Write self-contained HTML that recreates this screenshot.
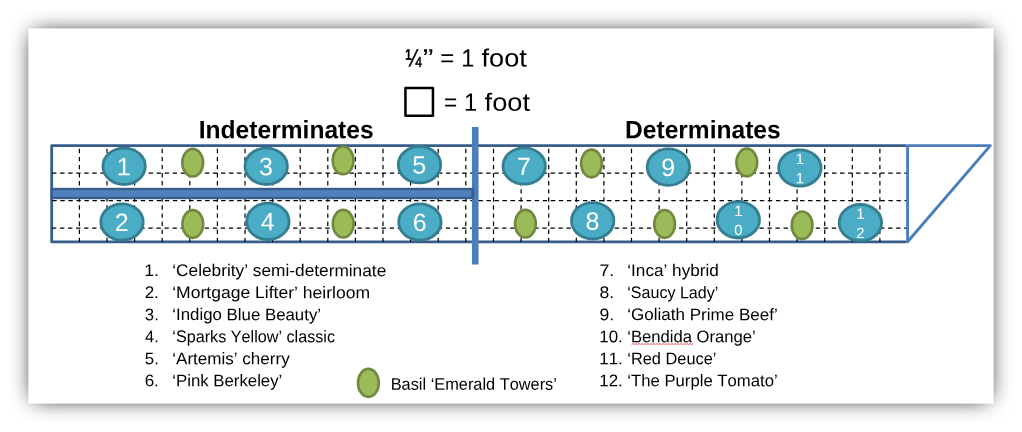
<!DOCTYPE html>
<html lang="en">
<head>
<meta charset="utf-8">
<title>Tomato bed plan</title>
<style>
html,body{margin:0;padding:0;background:#fff;}
body{width:1022px;height:432px;overflow:hidden;position:relative;font-family:"Liberation Sans",sans-serif;}
svg{position:absolute;left:0;top:0;will-change:transform;}
text{font-family:"Liberation Sans",sans-serif;fill:#000;font-kerning:none;text-rendering:geometricPrecision;}
.h{font-weight:bold;font-size:25.2px;}
.t{font-size:25.0px;}
.l{font-size:16.8px;}
.q{stroke:#000;stroke-width:0.55px;}
.n{font-size:25.0px;fill:#fff;text-anchor:middle;}
.s{font-size:14.8px;fill:#fff;text-anchor:middle;}
</style>
</head>
<body>
<svg width="1022" height="432" viewBox="0 0 1022 432">

<defs>
<filter id="sh" filterUnits="userSpaceOnUse" x="-40" y="-40" width="1102" height="512"><feGaussianBlur stdDeviation="11"/></filter>
</defs>
<rect x="33.40" y="33.40" width="955.20" height="365.20" fill="#000" filter="url(#sh)"/>
<rect x="28.40" y="28.40" width="965.20" height="375.20" fill="#fff"/>
<text class="t q" transform="matrix(0.7683 0.0005 0 1 405.57 66.39)">¼</text>
<text class="t" transform="matrix(1.2935 0.0005 0 1 422.82 66.40)">” </text>
<text class="t" transform="matrix(0.9633 0.0005 0 1 440.32 66.40)">= </text>
<text class="t" transform="matrix(0.9463 0.0005 0 1 461.20 66.40)">1 </text>
<text class="t" transform="matrix(1.0860 0.0005 0 1 481.52 66.39)">foot</text>
<rect x="405.45" y="87.9" width="27.5" height="27.8" fill="none" stroke="#000" stroke-width="2.5" stroke-linejoin="round"/>
<text class="t" transform="matrix(0.9056 0.0005 0 1 444.09 110.80)">= </text>
<text class="t" transform="matrix(0.9463 0.0005 0 1 464.00 110.80)">1 </text>
<text class="t" transform="matrix(1.0908 0.0005 0 1 484.61 110.79)">foot</text>
<text class="h" transform="matrix(0.9760 0.0005 0 1 198.75 138.26)">Indeterminates</text>
<text class="h" transform="matrix(0.9749 0.0005 0 1 625.06 138.26)">Determinates</text>
<path d="M906.5 145.6H51.7V241.9H906.5" fill="none" stroke="#385d8a" stroke-width="2.8" stroke-linejoin="round"/>
<g stroke="#000" stroke-width="1.2" fill="none">
<g stroke-dasharray="4.40 3.68">
<path d="M79.4 145.6V241.9" stroke-dashoffset="4.88"/>
<path d="M107.0 145.6V241.9" stroke-dashoffset="4.88"/>
<path d="M134.6 145.6V241.9" stroke-dashoffset="4.88"/>
<path d="M162.2 145.6V241.9" stroke-dashoffset="4.88"/>
<path d="M189.8 145.6V241.9" stroke-dashoffset="4.88"/>
<path d="M217.4 145.6V241.9" stroke-dashoffset="4.88"/>
<path d="M245.0 145.6V241.9" stroke-dashoffset="4.88"/>
<path d="M272.6 145.6V241.9" stroke-dashoffset="4.88"/>
<path d="M300.2 145.6V241.9" stroke-dashoffset="4.88"/>
<path d="M327.8 145.6V241.9" stroke-dashoffset="4.88"/>
<path d="M355.4 145.6V241.9" stroke-dashoffset="4.88"/>
<path d="M383.0 145.6V241.9" stroke-dashoffset="4.88"/>
<path d="M410.6 145.6V241.9" stroke-dashoffset="4.88"/>
<path d="M438.2 145.6V241.9" stroke-dashoffset="4.88"/>
<path d="M465.8 145.6V241.9" stroke-dashoffset="4.88"/>
<path d="M493.5 145.6V241.9" stroke-dashoffset="4.88"/>
<path d="M521.1 145.6V241.9" stroke-dashoffset="4.88"/>
<path d="M548.7 145.6V241.9" stroke-dashoffset="4.88"/>
<path d="M576.3 145.6V241.9" stroke-dashoffset="4.88"/>
<path d="M603.9 145.6V241.9" stroke-dashoffset="4.88"/>
<path d="M631.5 145.6V241.9" stroke-dashoffset="4.88"/>
<path d="M659.1 145.6V241.9" stroke-dashoffset="4.88"/>
<path d="M686.7 145.6V241.9" stroke-dashoffset="4.88"/>
<path d="M714.3 145.6V241.9" stroke-dashoffset="4.88"/>
<path d="M741.9 145.6V241.9" stroke-dashoffset="4.88"/>
<path d="M769.5 145.6V241.9" stroke-dashoffset="4.88"/>
<path d="M797.1 145.6V241.9" stroke-dashoffset="4.88"/>
<path d="M824.7 145.6V241.9" stroke-dashoffset="4.88"/>
<path d="M852.3 145.6V241.9" stroke-dashoffset="4.88"/>
<path d="M879.9 145.6V241.9" stroke-dashoffset="4.88"/>
</g>
<g stroke-dasharray="4.40 3.64">
<path d="M51.8 173.1H907.5" stroke-dashoffset="7.74"/>
<path d="M51.8 200.6H907.5" stroke-dashoffset="7.54"/>
<path d="M51.8 228.1H907.5" stroke-dashoffset="7.94"/>
</g>
</g>
<path d="M907.6 145.6H990.3L907.6 241.7Z" fill="none" stroke="#4a7ebb" stroke-width="2.9" stroke-linejoin="round"/>
<path d="M475.25 126.9V264.4" stroke="#4a7ebb" stroke-width="6.6" fill="none"/>
<rect x="51.80" y="189.00" width="420.90" height="9.00" fill="#4f81bd" stroke="#385d8a" stroke-width="2.4"/>
<ellipse cx="192.7" cy="162.7" rx="10.40" ry="13.85" fill="#9bbb59" stroke="#71893f" stroke-width="2.6"/>
<ellipse cx="192.8" cy="224.0" rx="10.40" ry="13.85" fill="#9bbb59" stroke="#71893f" stroke-width="2.6"/>
<ellipse cx="343.1" cy="160.4" rx="10.40" ry="13.85" fill="#9bbb59" stroke="#71893f" stroke-width="2.6"/>
<ellipse cx="343.2" cy="223.7" rx="10.40" ry="13.85" fill="#9bbb59" stroke="#71893f" stroke-width="2.6"/>
<ellipse cx="591.5" cy="163.5" rx="10.40" ry="13.85" fill="#9bbb59" stroke="#71893f" stroke-width="2.6"/>
<ellipse cx="525.4" cy="223.7" rx="10.40" ry="13.85" fill="#9bbb59" stroke="#71893f" stroke-width="2.6"/>
<ellipse cx="664.6" cy="224.0" rx="10.40" ry="13.85" fill="#9bbb59" stroke="#71893f" stroke-width="2.6"/>
<ellipse cx="746.8" cy="162.5" rx="10.40" ry="13.85" fill="#9bbb59" stroke="#71893f" stroke-width="2.6"/>
<ellipse cx="802.1" cy="225.3" rx="10.40" ry="13.85" fill="#9bbb59" stroke="#71893f" stroke-width="2.6"/>
<ellipse cx="124.1" cy="166.3" rx="21.20" ry="18.20" fill="#4bacc6" stroke="#357d91" stroke-width="2.8"/>
<text class="n" transform="matrix(1 0.0005 0 1 123.80 175.20)">1</text>
<ellipse cx="122.0" cy="222.0" rx="21.20" ry="18.20" fill="#4bacc6" stroke="#357d91" stroke-width="2.8"/>
<text class="n" transform="matrix(1 0.0005 0 1 121.70 230.90)">2</text>
<ellipse cx="266.2" cy="166.3" rx="21.20" ry="18.20" fill="#4bacc6" stroke="#357d91" stroke-width="2.8"/>
<text class="n" transform="matrix(1 0.0005 0 1 265.90 175.20)">3</text>
<ellipse cx="267.9" cy="221.4" rx="21.20" ry="18.20" fill="#4bacc6" stroke="#357d91" stroke-width="2.8"/>
<text class="n" transform="matrix(1 0.0005 0 1 267.60 230.30)">4</text>
<ellipse cx="419.5" cy="164.7" rx="21.20" ry="18.20" fill="#4bacc6" stroke="#357d91" stroke-width="2.8"/>
<text class="n" transform="matrix(1 0.0005 0 1 419.20 173.60)">5</text>
<ellipse cx="419.9" cy="222.0" rx="21.20" ry="18.20" fill="#4bacc6" stroke="#357d91" stroke-width="2.8"/>
<text class="n" transform="matrix(1 0.0005 0 1 419.60 230.90)">6</text>
<ellipse cx="524.2" cy="166.0" rx="21.20" ry="18.20" fill="#4bacc6" stroke="#357d91" stroke-width="2.8"/>
<text class="n" transform="matrix(1 0.0005 0 1 523.90 174.90)">7</text>
<ellipse cx="592.7" cy="220.8" rx="21.20" ry="18.20" fill="#4bacc6" stroke="#357d91" stroke-width="2.8"/>
<text class="n" transform="matrix(1 0.0005 0 1 592.40 229.70)">8</text>
<ellipse cx="668.4" cy="167.1" rx="21.20" ry="18.20" fill="#4bacc6" stroke="#357d91" stroke-width="2.8"/>
<text class="n" transform="matrix(1 0.0005 0 1 668.10 176.00)">9</text>
<ellipse cx="738.3" cy="219.8" rx="21.20" ry="18.20" fill="#4bacc6" stroke="#357d91" stroke-width="2.8"/>
<text class="s" transform="matrix(1 0.0005 0 1 738.30 215.90)"><tspan x="0" y="0">1</tspan><tspan x="0" y="19.2">0</tspan></text>
<ellipse cx="799.9" cy="168.0" rx="21.20" ry="18.20" fill="#4bacc6" stroke="#357d91" stroke-width="2.8"/>
<text class="s" transform="matrix(1 0.0005 0 1 799.90 164.10)"><tspan x="0" y="0">1</tspan><tspan x="0" y="19.2">1</tspan></text>
<ellipse cx="860.4" cy="222.7" rx="21.20" ry="18.20" fill="#4bacc6" stroke="#357d91" stroke-width="2.8"/>
<text class="s" transform="matrix(1 0.0005 0 1 860.40 218.80)"><tspan x="0" y="0">1</tspan><tspan x="0" y="19.2">2</tspan></text>
<text class="l" transform="matrix(1.0538 0.0005 0 1 144.15 276.10)">1. </text>
<text class="l" transform="matrix(1.0290 0.0005 0 1 172.23 276.05)">‘Celebrity’ semi-determinate</text>
<text class="l" transform="matrix(1.0144 0.0005 0 1 144.64 298.12)">2. </text>
<text class="l" transform="matrix(1.0448 0.0005 0 1 172.21 298.07)">‘Mortgage Lifter’ heirloom</text>
<text class="l" transform="matrix(0.9969 0.0005 0 1 144.86 320.14)">3. </text>
<text class="l" transform="matrix(1.0033 0.0005 0 1 172.25 320.10)">‘Indigo Blue Beauty’</text>
<text class="l" transform="matrix(0.9759 0.0005 0 1 145.12 342.16)">4. </text>
<text class="l" transform="matrix(0.9642 0.0005 0 1 172.30 342.12)">‘Sparks Yellow’ classic</text>
<text class="l" transform="matrix(0.9996 0.0005 0 1 144.83 364.18)">5. </text>
<text class="l" transform="matrix(1.0159 0.0005 0 1 172.24 364.15)">‘Artemis’ cherry</text>
<text class="l" transform="matrix(1.0152 0.0005 0 1 144.63 386.20)">6. </text>
<text class="l" transform="matrix(1.0001 0.0005 0 1 172.26 386.17)">‘Pink Berkeley’</text>
<text class="l" transform="matrix(1.0589 0.0005 0 1 599.39 276.10)">7. </text>
<text class="l" transform="matrix(1.0238 0.0005 0 1 627.23 276.08)">‘Inca’ hybrid</text>
<text class="l" transform="matrix(1.0471 0.0005 0 1 599.54 298.12)">8. </text>
<text class="l" transform="matrix(0.9563 0.0005 0 1 627.30 298.10)">‘Saucy Lady’</text>
<text class="l" transform="matrix(1.0522 0.0005 0 1 599.47 320.14)">9. </text>
<text class="l" transform="matrix(1.0145 0.0005 0 1 627.24 320.10)">‘Goliath Prime Beef’</text>
<text class="l" transform="matrix(1.0078 0.0005 0 1 599.31 342.15)">10. </text>
<text class="l" transform="matrix(0.9911 0.0005 0 1 627.27 342.13)">‘Bendida Orange’</text>
<path d="M631.6 344.4L633.1 343.6L634.6 344.5L636.1 343.6L637.6 344.5L639.1 343.6L640.6 344.5L642.1 343.6L643.6 344.5L645.1 343.6L646.6 344.5L648.1 343.6L649.6 344.5L651.1 343.6L652.6 344.5L654.1 343.6L655.6 344.5L657.1 343.6L658.6 344.5L660.1 343.6L661.6 344.5L663.1 343.6L664.6 344.5L666.1 343.6L667.6 344.5L669.1 343.6L670.6 344.5L672.1 343.6L673.6 344.5L675.1 343.6L676.6 344.5L678.1 343.6L679.6 344.5L681.1 343.6L682.6 344.5L684.1 343.6L685.6 344.5L687.1 343.6L688.6 344.5L690.1 343.6L691.6 344.5L693.1 343.6" fill="none" stroke="#e8484e" stroke-width="0.9"/>
<text class="l" transform="matrix(1.0078 0.0005 0 1 599.31 364.17)">11. </text>
<text class="l" transform="matrix(0.9751 0.0005 0 1 627.28 364.16)">‘Red Deuce’</text>
<text class="l" transform="matrix(1.0078 0.0005 0 1 599.31 386.19)">12. </text>
<text class="l" transform="matrix(0.9954 0.0005 0 1 627.26 386.16)">‘The Purple Tomato’</text>
<ellipse cx="368.4" cy="382.9" rx="10.40" ry="14.00" fill="#9bbb59" stroke="#71893f" stroke-width="2.6"/>
<text class="l" transform="matrix(0.9743 0.0005 0 1 390.66 389.76)">Basil ‘Emerald Towers’</text>
</svg>
</body>
</html>
